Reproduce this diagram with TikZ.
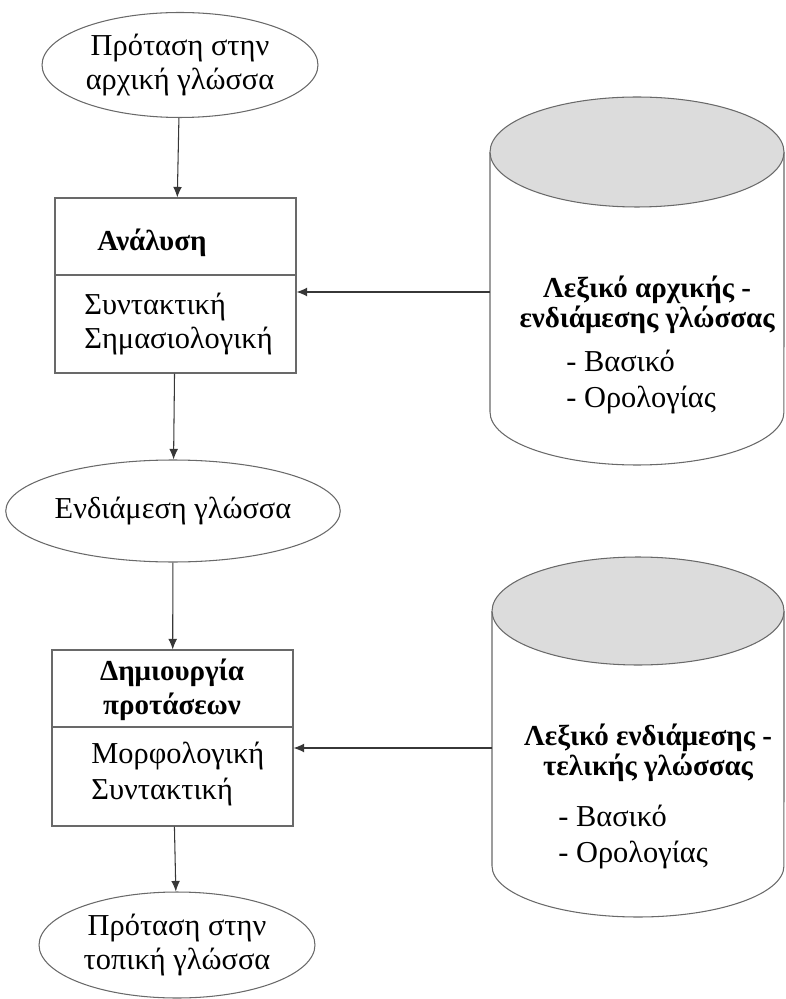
\documentclass[tikz,border=0pt]{standalone}
\usepackage{fontspec}
\setmainfont{Liberation Serif}
\usetikzlibrary{shapes.geometric, arrows.meta, calc}
\definecolor{DictGray}{RGB}{220, 220, 220}
\definecolor{LineGray}{RGB}{105, 105, 105}
\definecolor{ArrowGray}{RGB}{55, 55, 55}

\begin{document}
\begin{tikzpicture}[x=0.02cm, y=-0.02cm, line width=0.6pt,
    every node/.style={font=\fontsize{17.3}{19.5}\selectfont},
    sentence/.style={draw=LineGray, ellipse, inner sep=0pt, align=center},
    stage/.style={draw=LineGray, rectangle, minimum width=4.82cm, minimum height=3.5cm},
    boldtext/.style={font=\fontsize{16.5}{#1}\selectfont\bfseries, align=center},
    conn/.style={-{Latex[length=6pt, width=5pt]}, draw=ArrowGray}]

\useasboundingbox (0,0) rectangle (786,999);

    % the two dictionaries
    \draw[LineGray, fill=white] (490,152) -- (490,412) arc[start angle=180, end angle=360, x radius=2.94cm, y radius=1.06cm] -- (784,152);
    \draw[LineGray, fill=DictGray] (637,152) ellipse[x radius=2.94cm, y radius=1.1cm];
    \draw[LineGray, fill=white] (492,611) -- (492,866) arc[start angle=180, end angle=360, x radius=2.92cm, y radius=1.02cm] -- (784,611);
    \draw[LineGray, fill=DictGray] (638,611) ellipse[x radius=2.92cm, y radius=1.08cm];

    \node[boldtext=15.3pt] (lexsrc) at (647,305) {Λεξικό αρχικής -\\ενδιάμεσης γλώσσας};
    \node[anchor=west, align=left, font=\fontsize{17.3}{20.4}\selectfont] (lexsrclist) at (560,382) {- Βασικό\\- Ορολογίας};
    \node[boldtext=15.3pt] (lexdst) at (648,753) {Λεξικό ενδιάμεσης -\\τελικής γλώσσας};
    \node[anchor=west, align=left, font=\fontsize{17.3}{20.4}\selectfont] (lexdstlist) at (552,837) {- Βασικό\\- Ορολογίας};

    \coordinate (lexsrcport) at (490,292);
    \coordinate (lexdstport) at (492,748);

    % sentences
    \node[sentence, minimum width=5.52cm, minimum height=2.1cm] (src) at (180,65) {Πρόταση στην\\αρχική γλώσσα};
    \node[sentence, minimum width=6.44cm, minimum height=2.04cm] (mid) at (173,511) {Ενδιάμεση γλώσσα};
    \node[sentence, minimum width=5.52cm, minimum height=2.12cm] (dst) at (177,945) {Πρόταση στην\\τοπική γλώσσα};

    % the two stages
    \node[stage] (ana) at (175.5,285.5) {};
    \coordinate (anasplit) at (0,275);
    \draw[LineGray] (ana.west |- anasplit) -- (ana.east |- anasplit);
    \node[boldtext=19pt] (anatitle) at (152,243) {Ανάλυση};
    \node[anchor=west, align=left] (anabody) at (78,324) {Συντακτική\\Σημασιολογική};

    \node[stage, minimum height=3.52cm] (gen) at (172.5,738) {};
    \coordinate (gensplit) at (0,727);
    \draw[LineGray] (gen.west |- gensplit) -- (gen.east |- gensplit);
    \node[boldtext=19.3pt] (gentitle) at (172,690) {Δημιουργία\\προτάσεων};
    \node[anchor=west, align=left, font=\fontsize{17.3}{20.4}\selectfont] (genbody) at (85,774) {Μορφολογική\\Συντακτική};

    % connectors
    \draw[conn] (src) -- (ana);
    \draw[conn] (ana) -- (mid);
    \draw[conn] (mid) -- (gen);
    \draw[conn] (gen) -- (dst);
    \draw[conn] (lexsrcport) -- (lexsrcport -| ana.east);
    \draw[conn] (lexdstport) -- (lexdstport -| gen.east);

\end{tikzpicture}
\end{document}
